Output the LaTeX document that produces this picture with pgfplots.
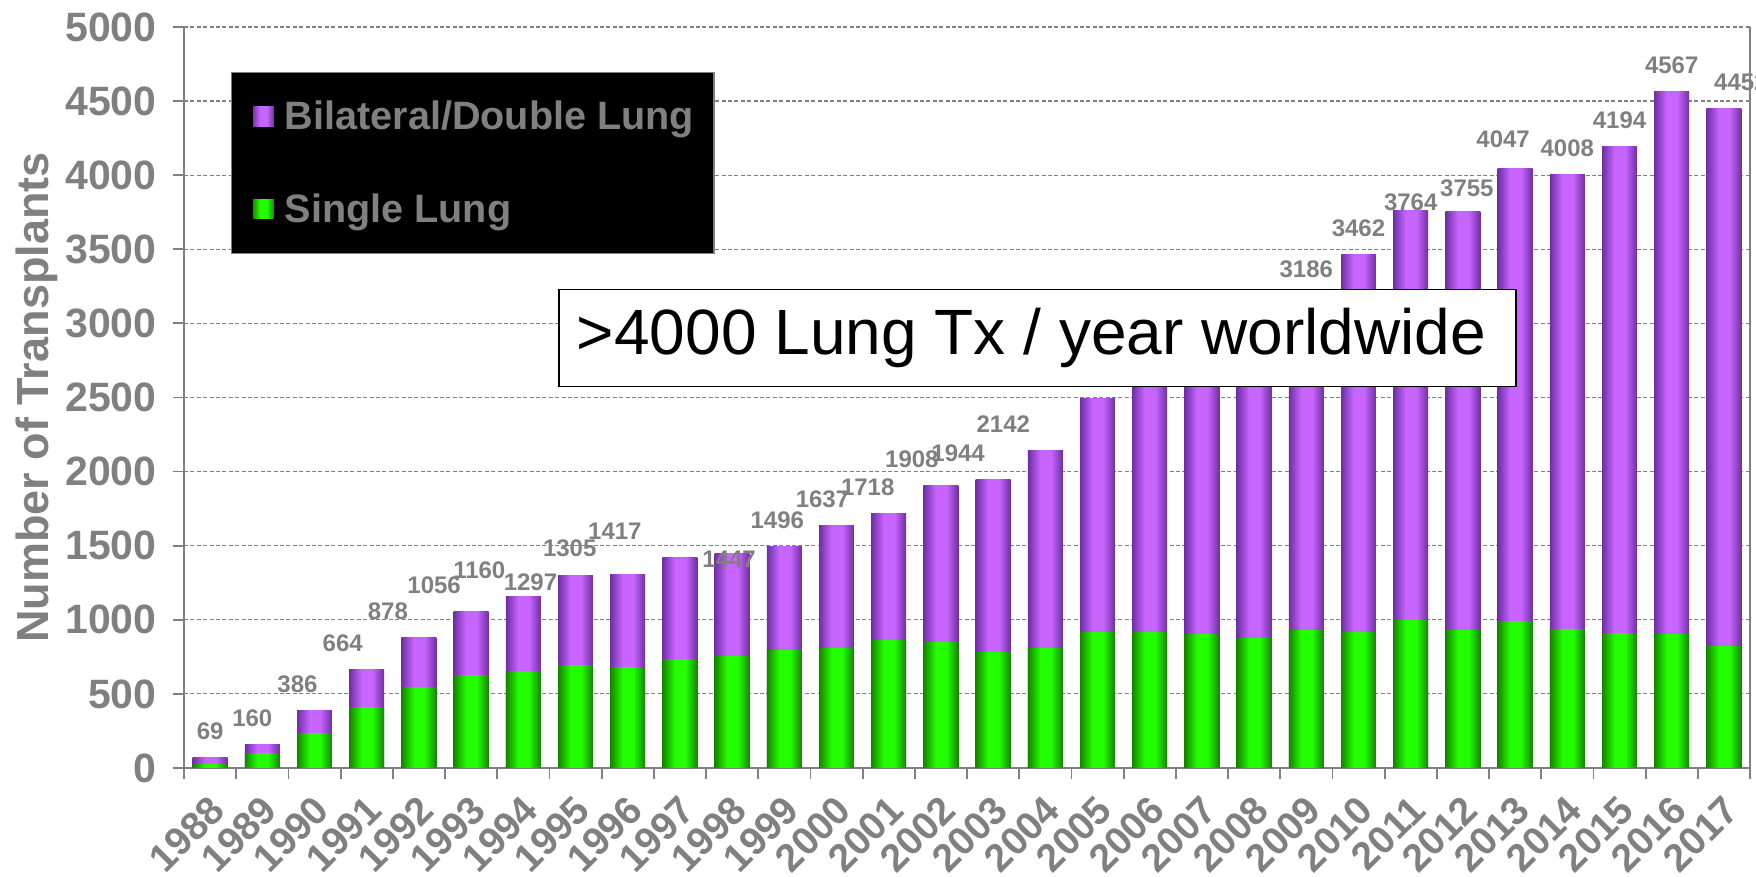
\documentclass[border=0pt]{standalone}
\usepackage{pgfplots}
\usepackage{pgfplotstable}
\pgfplotsset{compat=1.18}
\usepackage{fontspec}
\setmainfont{Liberation Sans}

\definecolor{pdark}{HTML}{6E2FA3}
\definecolor{plight}{HTML}{C865FF}
\definecolor{gdark}{HTML}{168400}
\definecolor{glight}{HTML}{22FF00}
\definecolor{txtgray}{HTML}{808080}

\pgfdeclarehorizontalshading{pshade}{100bp}{color(0bp)=(pdark); color(25bp)=(pdark); color(43bp)=(plight); color(58bp)=(plight); color(75bp)=(pdark); color(100bp)=(pdark)}
\pgfdeclarehorizontalshading{gshade}{100bp}{color(0bp)=(gdark); color(25bp)=(gdark); color(43bp)=(glight); color(58bp)=(glight); color(75bp)=(gdark); color(100bp)=(gdark)}

% sgl = single lung, tot = total (single + bilateral), bil = bilateral
\pgfplotstableread{
idx year sgl bil tot dx dy
0 1988 24 45 69 0 0
1 1989 99 61 160 -5 0
2 1990 230 156 386 -8.5 0
3 1991 410 254 664 -12 0
4 1992 545 333 878 -15.5 0
5 1993 626 430 1056 -18.5 0
6 1994 653 507 1160 -22 0
7 1995 694 603 1297 -22.5 -16.5
8 1996 680 625 1305 -29 0
9 1997 734 683 1417 -32.5 0
10 1998 755 692 1447 -1.5 -16
11 1999 795 701 1496 -3.5 0
12 2000 804 833 1637 -7 0
13 2001 858 860 1718 -10.5 0
14 2002 845 1063 1908 -14.5 0
15 2003 777 1167 1944 -17.5 0
16 2004 809 1333 2142 -21 0
17 2005 912 1580 2492 0 0
18 2006 912 1808 2720 0 0
19 2007 899 1951 2850 0 0
20 2008 876 2074 2950 0 0
21 2009 929 2257 3186 0 0
22 2010 915 2547 3462 0 0
23 2011 994 2770 3764 0 -9
24 2012 928 2827 3755 2 -1.5
25 2013 987 3060 4047 -6 1.5
26 2014 935 3073 4008 0 0
27 2015 908 3286 4194 0 0
28 2016 899 3668 4567 0 0
29 2017 817 3635 4452 8.5 0
}\datatable

\begin{document}
\begin{tikzpicture}
\useasboundingbox (-92pt,-54.5pt) rectangle (786pt,384pt);
\begin{axis}[
  at={(0pt,0pt)}, anchor=south west,
  scale only axis, width=783pt, height=370.5pt,
  ybar, bar width=0.67,
  xmin=-0.5, xmax=29.5, ymin=0, ymax=5000,
  xtick={0,...,29},
  xticklabels from table={\datatable}{year},
  minor xtick={-0.5,0.5,...,29.5},
  ytick={0,500,...,5000},
  xtick pos=bottom, ytick pos=left,
  tick align=outside,
  major tick length=5.5pt, minor tick length=5.5pt,
  major x tick style={draw=none},
  tick style={draw=txtgray, line width=0.9pt},
  separate axis lines,
  axis x line*=bottom, axis y line*=box,
  axis line style={-, draw=txtgray, line width=1pt},
  ymajorgrids,
  major grid style={draw=txtgray, line width=0.6pt, dash pattern=on 2pt off 1.2pt},
  scaled y ticks=false,
  /pgf/number format/assume math mode=true,
  /pgf/number format/set thousands separator={},
  yticklabel style={font=\fontsize{20.5}{23}\selectfont\bfseries, text=txtgray, anchor=east, inner sep=0pt, xshift=-8pt},
  xticklabel style={font=\fontsize{19.5}{22}\selectfont\bfseries, text=txtgray, inner sep=0pt, xshift=3.8pt, yshift=-12pt, rotate=45, anchor=east},
  every axis y label/.style={at={(axis description cs:-0.0939,0.5)}, anchor=center, rotate=90, font=\fontsize{22.5}{25}\selectfont\bfseries, text=txtgray},
  ylabel={Number of Transplants},
  legend style={at={(axis description cs:0.030,0.939)}, anchor=north west, fill=black, draw=txtgray, line width=0.6pt, text=txtgray, font=\fontsize{19.8}{22}\selectfont\bfseries, inner xsep=10pt, inner ysep=14.2pt, row sep=30.4pt, column sep=5pt, nodes={inner sep=0pt}},
  legend cell align=left,
]
\addlegendimage{legend image code/.code={\shade[shading=pshade] (0pt,-5.2pt) rectangle (11pt,5.8pt);}}
\addlegendentry{Bilateral/Double Lung}
\addlegendimage{legend image code/.code={\shade[shading=gshade] (0pt,-5.2pt) rectangle (11pt,5.8pt);}}
\addlegendentry{Single Lung}
\pgfplotsinvokeforeach{0,...,29}{
  \addplot[forget plot, draw=none, shade, shading=pshade, bar shift=0pt,
    restrict expr to domain={\coordindex}{#1:#1},
    nodes near coords, point meta=explicit symbolic,
    visualization depends on={\thisrow{dx} \as \dx},
    visualization depends on={\thisrow{dy} \as \dy},
    every node near coord/.append style={anchor=base, yshift=9pt, xshift=\dx pt, yshift=\dy pt, font=\fontsize{12}{14}\selectfont\bfseries, text=txtgray, inner sep=0pt}]
    table[x=idx, y=tot, meta=tot] {\datatable};
  \addplot[forget plot, draw=none, shade, shading=gshade, bar shift=0pt,
    restrict expr to domain={\coordindex}{#1:#1}]
    table[x=idx, y=sgl] {\datatable};
}
\coordinate (boxc) at (axis cs:15.85,2901);
\end{axis}
\node[draw=black, line width=0.8pt, fill=white, minimum width=478.5pt, minimum height=48.5pt, inner sep=0pt] at (boxc) {};
\node[inner sep=0pt, font=\fontsize{32}{34}\selectfont, xshift=-3pt] at (boxc) {>4000 Lung Tx / year worldwide};
\end{tikzpicture}
\end{document}
